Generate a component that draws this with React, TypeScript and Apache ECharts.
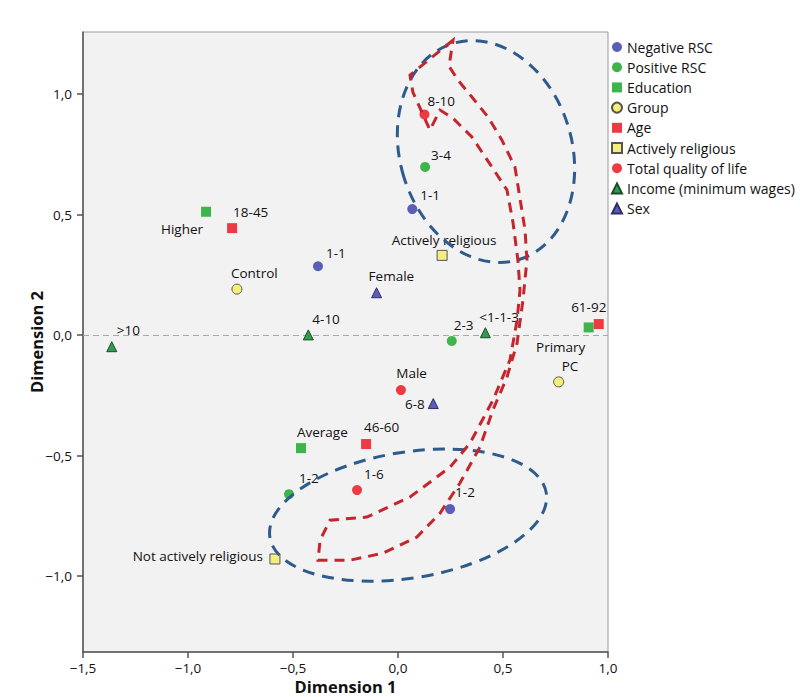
import React, { useEffect, useRef } from "react";
import * as echarts from "echarts";

const FONT = '"Open Sans", "Noto Sans", sans-serif';

// ---- data ----
const seriesNames = [
  "Negative RSC",
  "Positive RSC",
  "Education",
  "Group",
  "Age",
  "Actively religious",
  "Total quality of life",
  "Income (minimum wages)",
  "Sex",
];

const negativeRSC = [[-0.381, 0.286], [0.068, 0.523], [0.248, -0.722]];
const negativeRSCLabels = ["1-1", "1-1", "1-2"];

const positiveRSC = [[0.129, 0.698], [0.256, -0.024], [-0.519, -0.66]];
const positiveRSCLabels = ["3-4", "2-3", "1-2"];

const education = [[-0.914, 0.512], [0.908, 0.032], [-0.462, -0.469]];
const educationLabels = ["Higher", "Primary", "Average"];

const group = [[-0.767, 0.191], [0.765, -0.194]];
const groupLabels = ["Control", "PC"];

const age = [[-0.79, 0.444], [0.956, 0.046], [-0.152, -0.452]];
const ageLabels = ["18-45", "61-92", "46-60"];

const religious = [[0.21, 0.331], [-0.586, -0.929]];
const religiousLabels = ["Actively religious", "Not actively religious"];

const qualityOfLife = [[0.126, 0.916], [0.014, -0.228], [-0.195, -0.643]];
const qualityOfLifeLabels = ["8-10", "6-8", "1-6"];

const income = [[-1.363, -0.048], [-0.427, 0.001], [0.416, 0.01]];
const incomeLabels = [">10", "4-10", "<1-1-3"];

const sex = [[-0.102, 0.176], [0.168, -0.284]];
const sexLabels = ["Female", "Male"];

const xTicks = [-1.5, -1.0, -0.5, 0.0, 0.5, 1.0];
const yTicks = [-1.0, -0.5, 0.0, 0.5, 1.0];

// annotation outlines (data coordinates)
const arrowOutline = [
  [0.262, 1.224], [0.057, 1.079], [0.071, 1.008], [0.152, 0.851], [0.2, 0.934],
  [0.262, 0.9], [0.352, 0.822], [0.448, 0.697], [0.519, 0.602], [0.548, 0.465],
  [0.571, 0.311], [0.581, 0.187], [0.567, 0.062], [0.533, -0.104], [0.452, -0.27],
  [0.343, -0.448], [0.248, -0.548], [0.057, -0.672], [-0.148, -0.755], [-0.324, -0.768],
  [-0.371, -0.851], [-0.381, -0.934], [-0.229, -0.934], [-0.071, -0.905], [0.09, -0.838],
  [0.2, -0.739], [0.295, -0.614], [0.39, -0.465], [0.452, -0.311], [0.519, -0.174],
  [0.567, -0.033], [0.595, 0.145], [0.614, 0.311], [0.605, 0.436], [0.557, 0.697],
  [0.495, 0.809], [0.429, 0.905], [0.352, 0.988], [0.286, 1.058], [0.243, 1.116],
];
const upperEllipseCenter = [0.419, 0.762];
const lowerEllipseCenter = [0.048, -0.747];

// ---- layout / styles ----
type LabelPos = [number, number, string];
const labelLayout: Record<string, LabelPos[]> = {
  "Negative RSC": [[8, -13, "left"], [8, -14, "left"], [5, -17, "left"]],
  "Positive RSC": [[6, -12, "left"], [2, -16, "left"], [10, -16, "left"]],
  Education: [[-3, 17, "right"], [-28, 20, "center"], [-4, -16, "left"]],
  Group: [[-6, -16, "left"], [3, -16, "left"]],
  Age: [[1, -16, "left"], [-10, -17, "center"], [-2, -17, "left"]],
  "Actively religious": [[2, -15, "center"], [-12, -3, "right"]],
  "Total quality of life": [[3, -13, "left"], [4, 14, "left"], [7, -16, "left"]],
  "Income (minimum wages)": [[5, -17, "left"], [4, -16, "left"], [-6, -16, "left"]],
  Sex: [[-8, -17, "left"], [-37, -31, "left"]],
};

const seriesStyle: Record<string, any> = {
  "Negative RSC": { symbol: "circle", size: 10, color: "#5a5eb6" },
  "Positive RSC": { symbol: "circle", size: 10, color: "#3db54a" },
  Education: { symbol: "rect", size: 10, color: "#3db54a" },
  Group: { symbol: "circle", size: 10, color: "#f3ef78", border: "#555" },
  Age: { symbol: "rect", size: 10, color: "#ee3a43" },
  "Actively religious": { symbol: "rect", size: 10, color: "#f3ef78", border: "#555" },
  "Total quality of life": { symbol: "circle", size: 10, color: "#ee3a43" },
  "Income (minimum wages)": { symbol: "triangle", size: 10, color: "#2f9d4d", border: "#1d4a2a" },
  Sex: { symbol: "triangle", size: 10, color: "#5a5eb6", border: "#2c2e66" },
};

const seriesData: [string, number[][], string[]][] = [
  ["Negative RSC", negativeRSC, negativeRSCLabels],
  ["Positive RSC", positiveRSC, positiveRSCLabels],
  ["Education", education, educationLabels],
  ["Group", group, groupLabels],
  ["Age", age, ageLabels],
  ["Actively religious", religious, religiousLabels],
  ["Total quality of life", qualityOfLife, qualityOfLifeLabels],
  ["Income (minimum wages)", income, incomeLabels],
  ["Sex", sex, sexLabels],
];

const fmt = (v: number) => v.toFixed(1).replace(".", ",").replace("-", "\u2212");

export default function App() {
  const ref = useRef<HTMLDivElement>(null);

  useEffect(() => {
    document.body.style.margin = "0";
    if (!ref.current) return;
    const chart = echarts.init(ref.current, null, { renderer: "svg" });

    const scatterSeries = seriesData.map(([name, pts, labels], si) => {
      const st = seriesStyle[name];
      const lay = labelLayout[name];
      return {
        name,
        type: "scatter",
        symbol: st.symbol,
        symbolSize: st.size,
        z: 3,
        itemStyle: {
          color: st.color,
          borderColor: st.border || st.color,
          borderWidth: st.border ? 1 : 0,
          opacity: 1,
        },
        data: pts.map((p, i) => ({
          value: p,
          name: labels[i],
          label: {
            show: true,
            formatter: labels[i],
            position: "inside",
            offset: [lay[i][0], lay[i][1]],
            align: lay[i][2],
            verticalAlign: "middle",
            color: "#111",
            fontFamily: FONT,
            fontSize: 13.5,
          },
        })),
        markLine:
          si === 0
            ? {
                silent: true,
                symbol: "none",
                label: { show: false },
                lineStyle: { color: "#a8a8a8", type: [6, 4], width: 1 },
                data: [{ yAxis: 0 }],
                z: 1,
              }
            : undefined,
      };
    });

    const annotation = {
      name: "annotation",
      type: "custom",
      silent: true,
      z: 4,
      data: [[0, 0]],
      renderItem: (params: any, api: any) => {
        const up = api.coord(upperEllipseCenter);
        const lo = api.coord(lowerEllipseCenter);
        const pts = arrowOutline.map((p) => api.coord(p));
        const blue = { fill: "none", stroke: "#2e5b8c", lineWidth: 3, lineDash: [12, 8] };
        return {
          type: "group",
          children: [
            {
              type: "ellipse",
              x: up[0],
              y: up[1],
              rotation: 0.297,
              shape: { cx: 0, cy: 0, rx: 86, ry: 113 },
              style: blue,
            },
            {
              type: "ellipse",
              x: lo[0],
              y: lo[1],
              rotation: 0.16,
              shape: { cx: 0, cy: 0, rx: 140, ry: 63 },
              style: blue,
            },
            {
              type: "polygon",
              shape: { points: pts },
              style: { fill: "none", stroke: "#c4262e", lineWidth: 3, lineDash: [10, 7] },
            },
          ],
        };
      },
    };

    chart.setOption({
      animation: false,
      backgroundColor: "#ffffff",
      textStyle: { fontFamily: FONT },
      grid: {
        left: 83,
        top: 32,
        width: 525,
        height: 620,
        containLabel: false,
        outerBoundsMode: "none",
        show: true,
        backgroundColor: "#f2f2f2",
        borderColor: "#9a9a9a",
        borderWidth: 1,
      },
      legend: {
        orient: "vertical",
        left: 606,
        top: 35,
        itemWidth: 10,
        itemHeight: 10,
        itemGap: 6.2,
        data: seriesNames,
        textStyle: { fontFamily: FONT, fontSize: 14, color: "#111", lineHeight: 14 },
        selectedMode: false,
      },
      xAxis: {
        type: "value",
        min: -1.5,
        max: 1.0,
        interval: 0.5,
        name: "Dimension 1",
        nameLocation: "middle",
        nameGap: 25,
        nameMoveOverlap: false,
        nameTextStyle: { fontFamily: FONT, fontSize: 16.5, fontWeight: "bold", color: "#111", lineHeight: 18 },
        axisLine: { show: true, onZero: false, lineStyle: { color: "#555", width: 1.5 } },
        axisTick: { show: true, length: 6, lineStyle: { color: "#555", width: 1.5 }, customValues: xTicks },
        axisLabel: {
          margin: 9,
          fontFamily: FONT,
          fontSize: 13.5,
          lineHeight: 14,
          color: "#111",
          customValues: xTicks,
          formatter: (v: number) => fmt(v),
        },
        splitLine: { show: false },
      },
      yAxis: {
        type: "value",
        min: -1.315,
        max: 1.258,
        name: "Dimension 2",
        nameLocation: "middle",
        nameGap: 38,
        nameMoveOverlap: false,
        nameTextStyle: { fontFamily: FONT, fontSize: 16.5, fontWeight: "bold", color: "#111" },
        axisLine: { show: true, onZero: false, lineStyle: { color: "#555", width: 1.5 } },
        axisTick: { show: true, length: 6, lineStyle: { color: "#555", width: 1.5 }, customValues: yTicks },
        axisLabel: {
          margin: 11,
          fontFamily: FONT,
          fontSize: 13.5,
          color: "#111",
          customValues: yTicks,
          formatter: (v: number) => fmt(v),
        },
        splitLine: { show: false },
      },
      series: [...scatterSeries, annotation],
    });

    return () => chart.dispose();
  }, []);

  return <div ref={ref} style={{ width: 800, height: 697 }} />;
}
